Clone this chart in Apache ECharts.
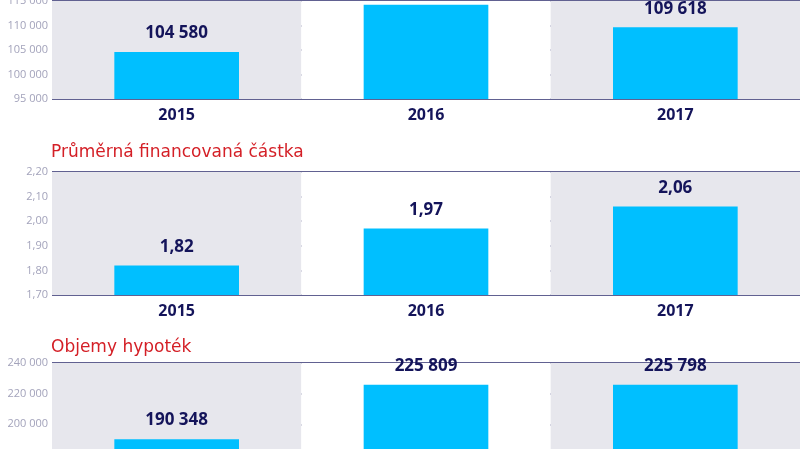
<!DOCTYPE html><html><head><meta charset="utf-8"><script src="https://cdn.jsdelivr.net/npm/echarts@6/dist/echarts.min.js"></script>
<style>html,body{margin:0;padding:0;background:#fff;overflow:hidden}#c{width:800px;height:449px}</style></head><body><div id="c"></div><script>
var years=['2015','2016','2017'];
var countValues=[104580,114250,109618];
var avgValues=[1.82,1.97,2.06];
var volumeValues=[190348,225809,225798];
var titles=['Průměrná financovaná částka','Objemy hypoték'];
var chart=echarts.init(document.getElementById('c'));
function sp(v){return String(v).replace(/\B(?=(\d{3})+(?!\d))/g,' ');}
function cz(v){return v.toFixed(2).replace('.',',');}
var grids=[{left:52,right:0,top:1,height:98,outerBoundsMode:'none',containLabel:false},{left:52,right:0,top:172,height:123,outerBoundsMode:'none',containLabel:false},{left:52,right:0,top:363,height:92,outerBoundsMode:'none',containLabel:false}];
var ys=[{min:95000,max:115000,interval:5000,f:sp},{min:1.7,max:2.2,interval:0.1,f:cz},{min:180000,max:240000,interval:20000,f:sp}];
var data=[countValues,avgValues,volumeValues];
var lf=[sp,function(v){return v.toFixed(2).replace('.',',').replace(/0$/,'');},sp];
chart.setOption({
 animation:false,
 title:titles.map(function(t,i){return {text:t,left:46,top:i==0?139:334,textStyle:{color:'#d41f26',fontSize:17,fontWeight:'normal',fontFamily:'DejaVu Sans'}};}),
 grid:grids,
 xAxis:grids.map(function(g,i){return {type:'category',gridIndex:i,data:years,axisLine:{show:false},axisTick:{show:false},
   axisLabel:{color:'#14145a',fontSize:16,fontWeight:'bold',fontFamily:'Open Sans',margin:8},
   splitArea:{show:true,interval:0,areaStyle:{color:['#e7e7ed','#ffffff']}}};}),
 yAxis:ys.map(function(y,i){return {type:'value',gridIndex:i,min:y.min,max:y.max,interval:y.interval,
   axisLine:{show:false},axisTick:{show:false},
   axisLabel:{color:'#a3a3bb',fontSize:11,fontFamily:'Open Sans',margin:4,formatter:y.f},
   splitLine:{lineStyle:{color:'#2c2c6c',width:1.5}}};}),
 series:data.map(function(d,i){return {type:'bar',xAxisIndex:i,yAxisIndex:i,data:d,barWidth:'50%',
   itemStyle:{color:'#00bfff'},
   label:{show:true,position:'top',distance:10,color:'#14145a',fontSize:17,fontWeight:'bold',fontFamily:'Open Sans',
   formatter:function(p){return lf[i](p.value);}}};})
});
</script></body></html>
